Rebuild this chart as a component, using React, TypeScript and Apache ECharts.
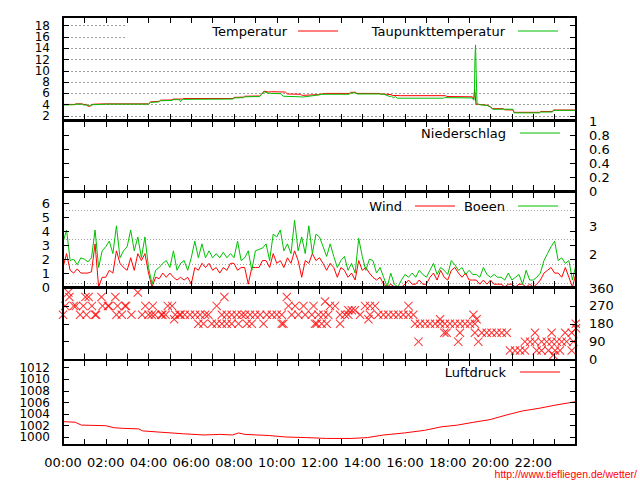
import React, { useEffect, useRef } from "react";
import * as echarts from "echarts";

// ---------- DATA ----------
const temperatur: [number, number][] = [
  [0, 4.05], [0.55, 4.05], [0.6, 4.15], [0.9, 4.15], [0.95, 4.05], [1.1, 4.05], [1.15, 3.75], [1.3, 3.75],
  [1.35, 4.05], [1.5, 4.1], [2.0, 4.15], [4.0, 4.15], [4.1, 4.5], [4.5, 4.6], [4.55, 4.8], [5.1, 4.85],
  [5.15, 5.0], [5.6, 5.0], [5.65, 5.1], [7.95, 5.1], [8.0, 5.3], [8.45, 5.35], [8.5, 5.5], [9.2, 5.55],
  [9.3, 5.9], [9.4, 6.4], [9.6, 6.25], [9.75, 6.3], [10.4, 6.25], [10.5, 5.9], [11.1, 5.85], [11.2, 5.65],
  [12.0, 5.8], [12.1, 5.9], [12.3, 6.0], [13.4, 6.0], [13.45, 6.2], [13.7, 6.2], [13.75, 6.0], [14.8, 6.0],
  [14.85, 5.9], [15.35, 5.8], [15.4, 5.65], [15.8, 5.6], [17.9, 5.6], [17.95, 5.45], [19.15, 5.4],
  [19.22, 5.0], [19.26, 6.8], [19.32, 4.1], [19.5, 4.05], [19.85, 3.9], [20.0, 3.65], [20.1, 3.3],
  [20.6, 3.3], [20.65, 3.1], [21.05, 3.06], [21.1, 2.65], [22.3, 2.65], [22.35, 2.8], [22.9, 2.8],
  [22.95, 3.06], [24, 3.06],
];

const taupunkt: [number, number][] = [
  [0, 3.95], [0.55, 4.0], [0.6, 4.1], [0.9, 4.1], [0.95, 3.95], [1.1, 3.95], [1.15, 3.85], [1.25, 3.8],
  [1.3, 4.0], [1.5, 4.0], [2.0, 4.1], [4.0, 4.1], [4.1, 4.4], [4.5, 4.5], [4.55, 4.7], [5.1, 4.75],
  [5.15, 4.9], [5.45, 4.9], [5.5, 4.55], [5.6, 4.95], [7.95, 5.0], [8.0, 5.2], [8.45, 5.25], [8.5, 5.4],
  [9.2, 5.45], [9.3, 5.85], [9.4, 6.3], [9.6, 6.05], [9.75, 6.0], [10.2, 5.95], [10.3, 5.5], [11.1, 5.4],
  [11.2, 5.35], [12.0, 5.75], [12.1, 5.85], [13.4, 5.85], [13.45, 6.1], [13.7, 6.1], [13.75, 5.9],
  [14.8, 5.9], [15.0, 5.85], [15.2, 5.6], [15.3, 5.4], [15.35, 5.6], [15.45, 5.2], [15.55, 5.45],
  [15.65, 5.15], [17.8, 5.15], [17.85, 5.25], [19.15, 5.2], [19.22, 4.8], [19.25, 6.5], [19.27, 11.9],
  [19.3, 14.6], [19.33, 9.6], [19.37, 4.15], [19.5, 4.0], [19.85, 3.85], [20.0, 3.6], [20.1, 3.2],
  [21.05, 3.2], [21.1, 2.55], [22.3, 2.55], [22.35, 2.7], [22.9, 2.7], [22.95, 3.0], [24, 3.0],
];

const niederschlag: [number, number][] = [[0, 0], [24, 0]];

// wind values every 10 minutes, 00:00 .. 24:00
const windStep = 1 / 6;
const wind: number[] = [
  1.4, 2.4, 1.2, 1.0, 1.3, 1.0,
  1.0, 1.0, 1.1, 3.1, 0.0, 0.7,
  0.7, 1.2, 1.0, 2.6, 1.7, 1.4,
  1.2, 2.1, 1.2, 2.4, 1.9, 2.4,
  1.0, 0.0, 0.7, 0.6, 1.0, 0.7,
  1.0, 0.7, 0.5, 0.7, 0.5, 0.7,
  0.2, 1.4, 1.2, 1.7, 1.4, 1.7,
  1.2, 1.4, 1.0, 1.4, 1.2, 1.7,
  1.7, 1.2, 1.4, 1.4, 0.2, 1.4,
  1.4, 1.4, 1.9, 1.9, 1.4, 2.4,
  1.7, 1.9, 1.4, 2.1, 1.7, 2.6,
  1.9, 0.7, 1.9, 1.7, 2.4, 1.9,
  2.1, 1.7, 1.2, 1.7, 1.4, 0.7,
  1.4, 1.2, 0.7, 1.0, 0.5, 1.9,
  1.2, 1.4, 1.0, 0.7, 0.5, 0.7,
  0.2, 0.0, 0.2, 0.0, 0.0, 0.0,
  0.2, 0.5, 0.2, 0.2, 0.5, 0.2,
  0.2, 0.7, 1.0, 0.5, 1.2, 0.7,
  0.5, 1.2, 1.4, 1.0, 0.7, 1.0,
  0.5, 0.5, 0.5, 0.2, 0.5, 0.2,
  0.5, 0.2, 0.2, 0.2, 0.0, 0.2,
  0.2, 0.0, 0.2, 0.2, 0.0, 0.2,
  0.0, 0.2, 0.5, 1.0, 1.2, 1.4,
  1.0, 1.0, 0.7, 1.4, 0.7, 0.0,
  1.0,
];

const boeen: number[] = [
  3.2, 4.1, 1.9, 2.0, 1.6, 2.1,
  2.0, 1.8, 2.1, 4.1, 1.4, 2.6,
  2.9, 3.3, 2.4, 4.4, 2.1, 2.6,
  2.9, 4.1, 2.6, 3.6, 2.1, 3.6,
  1.4, 0.2, 1.2, 1.4, 1.7, 1.9,
  1.4, 2.6, 1.2, 1.7, 1.9, 1.2,
  2.1, 3.3, 2.1, 3.1, 2.1, 2.6,
  2.1, 2.4, 2.1, 2.5, 2.1, 2.4,
  2.1, 3.3, 1.9, 2.1, 2.6, 1.2,
  2.6, 2.7, 2.8, 3.1, 1.9, 3.8,
  3.6, 4.1, 2.6, 3.1, 2.4, 4.8,
  2.6, 3.6, 2.4, 4.4, 2.4, 3.8,
  3.6, 2.9, 2.2, 3.1, 2.2, 1.4,
  1.9, 2.2, 1.2, 1.7, 1.0, 3.5,
  2.2, 1.2, 2.0, 1.9, 1.0, 1.4,
  0.7, 0.0, 1.0, 0.2, 0.0, 0.5,
  0.9, 0.7, 1.0, 0.7, 1.2, 0.9,
  0.7, 1.2, 1.7, 0.9, 1.4, 1.2,
  0.9, 1.9, 1.6, 1.2, 1.4, 0.9,
  1.2, 0.9, 0.9, 0.7, 1.4, 0.9,
  0.7, 0.9, 0.7, 0.7, 0.5, 1.0,
  0.5, 0.7, 0.9, 0.2, 1.2, 0.5,
  0.5, 0.7, 1.0, 1.9, 2.4, 2.9,
  3.3, 1.9, 2.1, 1.7, 1.9, 0.5,
  1.6,
];

// Beaufort class borders (m/s) and labels on the right
const beaufortBorders = [0.3, 1.6, 3.4, 5.5];
const beaufortLabelPos = [2.36, 4.34];
const beaufortLabelText = ["2", "3"];

const windrichtung: [number, number][] = [
  [0.0, 225], [0.1, 270], [0.25, 337.5], [0.3, 315], [0.5, 270], [0.6, 270], [0.8, 225], [0.95, 270],
  [1.05, 315], [1.1, 225], [1.2, 315], [1.35, 270], [1.5, 225], [1.55, 225], [1.8, 315], [1.85, 270],
  [2.1, 270], [2.15, 270], [2.45, 315], [2.5, 225], [2.55, 270], [2.75, 225], [2.9, 270], [2.95, 270],
  [3.2, 225], [3.5, 337.5], [3.7, 225], [3.85, 270], [4.0, 225], [4.15, 225], [4.2, 270], [4.3, 225],
  [4.6, 225], [4.65, 225], [4.8, 225], [4.9, 270], [5.1, 270], [5.2, 202.5], [5.25, 225], [5.45, 225],
  [5.5, 225], [5.7, 225],
  [5.94, 225], [6.18, 225], [6.41, 225], [6.65, 225], [6.8, 225], [7.43, 225], [7.66, 225], [7.89, 225],
  [8.13, 225], [8.36, 225], [8.52, 225], [8.75, 225], [8.99, 225], [9.22, 225], [9.53, 225], [9.77, 225],
  [10.0, 225], [10.23, 225], [10.7, 225], [11.01, 225], [11.33, 225], [11.64, 225], [11.95, 225],
  [6.33, 180], [6.57, 180], [6.96, 180], [7.19, 180], [7.43, 180], [7.66, 180], [7.89, 180], [8.21, 180],
  [8.6, 180], [8.83, 180], [9.38, 180], [10.23, 180], [10.31, 180], [11.79, 180],
  [7.55, 315], [10.47, 315], [7.19, 270], [10.55, 270], [10.86, 270], [11.25, 270], [11.72, 270],
  [12.26, 292.5], [12.49, 270], [12.73, 270], [14.13, 270], [14.36, 270], [14.6, 270], [16.16, 270],
  [13.35, 247.5], [13.51, 247.5], [13.66, 247.5],
  [12.18, 225], [12.41, 225], [12.96, 225], [13.19, 225], [13.35, 225], [13.9, 225], [14.36, 225],
  [14.75, 225], [14.99, 225], [15.22, 225], [15.46, 225], [15.69, 225], [15.92, 225], [16.16, 225],
  [16.39, 225], [14.29, 202.5], [17.64, 202.5],
  [11.87, 180], [12.1, 180], [12.34, 180], [12.96, 180], [16.47, 180], [16.7, 180], [16.94, 180],
  [17.17, 180], [17.41, 180], [17.64, 180], [17.87, 180], [18.1, 180], [18.34, 180], [18.57, 180],
  [18.81, 180], [19.04, 180], [19.27, 180], [17.84, 135], [16.63, 90],
  [19.2, 225], [19.35, 202.5],
  [17.95, 135], [18.57, 135], [19.27, 135], [19.59, 135], [19.82, 135], [20.05, 135], [20.29, 135],
  [20.52, 135], [20.76, 135], [22.08, 135], [22.86, 135], [23.49, 135], [23.8, 135],
  [18.49, 90], [19.43, 90], [21.61, 90], [21.85, 90], [22.08, 90], [22.39, 90], [22.63, 90], [22.86, 90],
  [23.1, 90], [23.33, 90], [23.56, 90], [23.88, 90],
  [20.91, 45], [21.15, 45], [21.38, 45], [21.61, 45], [22.16, 45], [22.39, 45], [22.71, 45], [23.02, 45],
  [23.25, 45], [23.8, 45], [22.94, 22.5], [23.99, 180], [24.0, 157.5],
];

const luftdruck: [number, number][] = [
  [0, 1002.7], [0.57, 1002.6], [0.86, 1002.1], [2.0, 1002.0], [2.39, 1001.65], [2.77, 1001.55],
  [3.54, 1001.45], [3.73, 1001.1], [4.68, 1000.85], [5.64, 1000.6], [6.6, 1000.4], [7.36, 1000.5],
  [7.93, 1000.4], [8.22, 1000.75], [8.5, 1000.5], [9.66, 1000.3], [10.42, 1000.05], [11.38, 999.95],
  [12.33, 999.8], [13.48, 999.8], [14.24, 999.95], [15.0, 1000.4], [15.97, 1000.75], [16.92, 1001.2],
  [17.69, 1001.8], [18.45, 1002.1], [19.22, 1002.6], [19.98, 1003.05], [20.75, 1003.85], [21.5, 1004.55],
  [22.27, 1005.0], [23.04, 1005.55], [24, 1006.15],
];

const tempTicks = [2, 4, 6, 8, 10, 12, 14, 16, 18];
const tempLabelsA = [2, 6, 10, 14, 18];
const tempLabelsB = [4, 8, 12, 16];
const precipTicks = [0, 0.2, 0.4, 0.6, 0.8, 1];
const windTicks = [0, 1, 2, 3, 4, 5, 6];
const dirTicks = [0, 90, 180, 270, 360];
const pressTicks = [1000, 1002, 1004, 1006, 1008, 1010, 1012];
const pressLabelsA = [1000, 1004, 1008, 1012];
const pressLabelsB = [1002, 1006, 1010];

// ---------- LAYOUT ----------
const FONT = '"DejaVu Sans", sans-serif';
const RED = "#ff0000";
const GREEN = "#00c000";
const panels = [
  { top: 17, height: 103, min: 1.29, max: 19.54 },
  { top: 121, height: 70, min: 0, max: 1 },
  { top: 192, height: 95, min: 0, max: 6.83 },
  { top: 288, height: 71.5, min: 0, max: 360 },
  { top: 360, height: 85, min: 998.67, max: 1013.33 },
];

const pad2 = (n: number) => (n < 10 ? "0" + n : "" + n);

function buildOption() {
  const grid = panels.map((p) => ({
    left: 63,
    width: 513,
    top: p.top,
    height: p.height,
    containLabel: false,
    outerBoundsMode: "none",
  }));

  const axisLine = { show: true, onZero: false, lineStyle: { color: "#000", width: 2 } };
  const tick = { show: true, inside: true, length: 6, lineStyle: { color: "#000", width: 1 } };
  const labelStyle = { color: "#000", fontFamily: FONT, fontSize: 13, lineHeight: 11 };
  const tightLabelStyle = { color: "#000", fontFamily: FONT, fontSize: 12, lineHeight: 10 };
  const tightPanels = [0, 4];

  const xAxis: any[] = [];
  panels.forEach((_, g) => {
    ["bottom", "top"].forEach((pos) => {
      const showLabels = g === 4 && pos === "bottom";
      xAxis.push({
        type: "value",
        gridIndex: g,
        position: pos,
        min: 0,
        max: 24,
        interval: 1,
        z: 10,
        axisLine,
        axisTick: tick,
        splitLine: { show: false },
        axisLabel: {
          show: showLabels,
          margin: 12,
          ...labelStyle,
          showMinLabel: true,
          showMaxLabel: true,
          formatter: (v: number) => (v % 2 === 0 && v < 24 ? pad2(v) + ":00" : ""),
        },
      });
    });
  });

  const ticksPerPanel = [tempTicks, precipTicks, windTicks, dirTicks, pressTicks];
  const labelsPerPanel = [tempLabelsA, precipTicks, windTicks, dirTicks, pressLabelsA];
  const labelSide = ["left", "right", "left", "right", "left"];
  const yAxis: any[] = [];
  panels.forEach((p, g) => {
    ["left", "right"].forEach((pos) => {
      const isLabelSide = labelSide[g] === pos;
      const ax: any = {
        type: "value",
        gridIndex: g,
        position: pos,
        min: p.min,
        max: p.max,
        z: 10,
        axisLine,
        axisTick: { ...tick, customValues: ticksPerPanel[g] },
        splitLine: { show: false },
        axisLabel: {
          show: isLabelSide,
          margin: 13,
          ...(tightPanels.includes(g) ? tightLabelStyle : labelStyle),
          showMinLabel: true,
          showMaxLabel: true,
          hideOverlap: false,
          customValues: labelsPerPanel[g],
          formatter: (v: number) => String(v),
        },
      };
      if (g === 2 && pos === "right") {
        ax.axisLabel = {
          show: true,
          margin: 13,
          ...labelStyle,
          showMinLabel: true,
          showMaxLabel: true,
          customValues: beaufortLabelPos,
          formatter: (v: number) => {
            const i = beaufortLabelPos.findIndex((b) => Math.abs(b - v) < 1e-6);
            return i >= 0 ? beaufortLabelText[i] : "";
          },
        };
      }
      yAxis.push(ax);
    });
  });
  // extra label-only axes so that tightly spaced labels are all kept
  [
    { g: 0, labels: tempLabelsB },
    { g: 4, labels: pressLabelsB },
  ].forEach(({ g, labels }) => {
    yAxis.push({
      type: "value",
      gridIndex: g,
      position: "left",
      min: panels[g].min,
      max: panels[g].max,
      axisLine: { show: false, onZero: false },
      axisTick: { show: false },
      splitLine: { show: false },
      axisLabel: {
        show: true,
        margin: 13,
        ...tightLabelStyle,
        showMinLabel: true,
        showMaxLabel: true,
        customValues: labels,
        formatter: (v: number) => String(v),
      },
    });
  });

  const gridLineStyle = { color: "#a0a0a0", width: 1, type: [2, 2] };
  const tempGrid: any[] = tempTicks
    .filter((v) => v <= 14)
    .map((v) => ({ yAxis: v }));
  tempTicks
    .filter((v) => v > 14)
    .forEach((v) => tempGrid.push([{ coord: [0, v] }, { coord: [3, v] }]));

  const windSeries = wind.map((v, i) => [i * windStep, v]);
  const gustSeries = boeen.map((v, i) => [i * windStep, v]);

  const series: any[] = [
    {
      name: "Temperatur",
      type: "line",
      xAxisIndex: 0,
      yAxisIndex: 0,
      data: temperatur,
      showSymbol: false,
      lineStyle: { color: RED, width: 1 },
      itemStyle: { color: RED },
      markLine: {
        silent: true,
        z: 1,
        symbol: "none",
        label: { show: false },
        lineStyle: gridLineStyle,
        data: tempGrid,
      },
    },
    {
      name: "Taupunkttemperatur",
      type: "line",
      xAxisIndex: 0,
      yAxisIndex: 0,
      data: taupunkt,
      showSymbol: false,
      lineStyle: { color: GREEN, width: 1 },
      itemStyle: { color: GREEN },
    },
    {
      name: "Niederschlag",
      type: "line",
      xAxisIndex: 2,
      yAxisIndex: 3,
      data: niederschlag,
      showSymbol: false,
      z: 0,
      lineStyle: { color: GREEN, width: 1 },
    },
    {
      name: "Wind",
      type: "line",
      xAxisIndex: 4,
      yAxisIndex: 4,
      data: windSeries,
      showSymbol: false,
      lineStyle: { color: RED, width: 1 },
      itemStyle: { color: RED },
      markLine: {
        silent: true,
        z: 1,
        symbol: "none",
        label: { show: false },
        lineStyle: { color: "#a0a0a0", width: 1, type: [1, 2] },
        data: beaufortBorders.map((v) => ({ yAxis: v })),
      },
    },
    {
      name: "Boeen",
      type: "line",
      xAxisIndex: 4,
      yAxisIndex: 4,
      data: gustSeries,
      showSymbol: false,
      lineStyle: { color: GREEN, width: 1 },
      itemStyle: { color: GREEN },
    },
    {
      name: "Windrichtung",
      type: "scatter",
      xAxisIndex: 6,
      yAxisIndex: 7,
      data: windrichtung,
      symbol: "path://M0,8L8,0L50,42L92,0L100,8L58,50L100,92L92,100L50,58L8,100L0,92L42,50Z",
      symbolSize: 9,
      itemStyle: { color: RED },
    },
    {
      name: "Luftdruck",
      type: "line",
      xAxisIndex: 8,
      yAxisIndex: 8,
      data: luftdruck,
      showSymbol: false,
      lineStyle: { color: RED, width: 1 },
      itemStyle: { color: RED },
    },
  ];

  const legendItems = [
    { text: "Temperatur", tx: 287, y: 31, x1: 298, x2: 338, color: RED },
    { text: "Taupunkttemperatur", tx: 505, y: 31, x1: 518, x2: 558, color: GREEN },
    { text: "Niederschlag", tx: 506, y: 133, x1: 520, x2: 560, color: GREEN },
    { text: "Wind", tx: 402, y: 206, x1: 415, x2: 455, color: RED },
    { text: "Boeen", tx: 505, y: 206, x1: 518, x2: 558, color: GREEN },
    { text: "Luftdruck", tx: 506, y: 372, x1: 520, x2: 560, color: RED },
  ];

  const graphic: any[] = [];
  legendItems.forEach((it) => {
    graphic.push({
      type: "text",
      x: it.tx,
      y: it.y,
      z: 20,
      style: {
        text: it.text,
        fill: "#000",
        font: `13px ${FONT}`,
        align: "right",
        verticalAlign: "middle",
      },
    });
    graphic.push({
      type: "line",
      z: 20,
      shape: { x1: it.x1, y1: it.y, x2: it.x2, y2: it.y },
      style: { stroke: it.color, lineWidth: 1 },
    });
  });
  graphic.push({
    type: "text",
    x: 637,
    y: 474,
    z: 20,
    style: {
      text: "http://www.tiefliegen.de/wetter/",
      fill: "#ff0000",
      font: '10.5px "Liberation Sans", Arial, sans-serif',
      lineHeight: 9,
      align: "right",
      verticalAlign: "middle",
    },
  });

  return {
    animation: false,
    backgroundColor: "#ffffff",
    grid,
    xAxis,
    yAxis,
    series,
    graphic,
  };
}

export default function App() {
  const ref = useRef<HTMLDivElement>(null);
  useEffect(() => {
    if (!ref.current) return;
    const chart = echarts.init(ref.current, undefined, { renderer: "svg" });
    chart.setOption(buildOption() as any);
    return () => chart.dispose();
  }, []);
  return (
    <div
      ref={ref}
      style={{ width: 640, height: 480, position: "absolute", left: 0, top: 0 }}
    />
  );
}
